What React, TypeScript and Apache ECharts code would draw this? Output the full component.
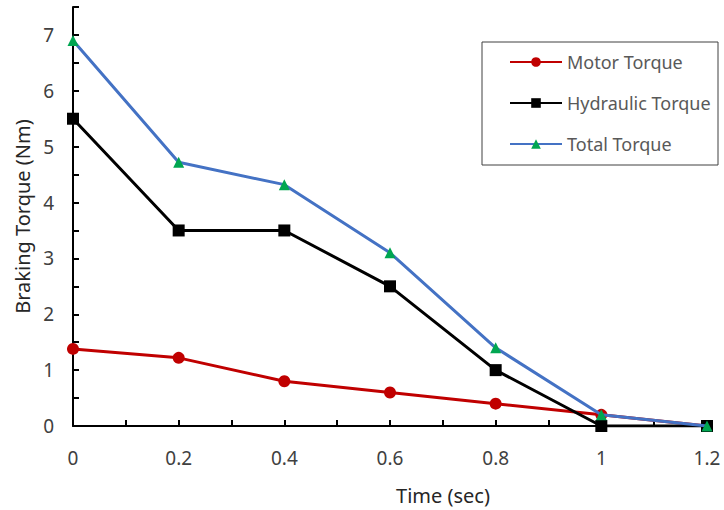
import React, { useEffect, useRef } from "react";
import * as echarts from "echarts";

const times = [0, 0.2, 0.4, 0.6, 0.8, 1, 1.2];
const motorTorque = [1.38, 1.22, 0.8, 0.6, 0.4, 0.2, 0];
const hydraulicTorque = [5.5, 3.5, 3.5, 2.5, 1.0, 0, 0];
const totalTorque = [6.9, 4.72, 4.32, 3.1, 1.4, 0.2, 0];
const seriesNames = ["Motor Torque", "Hydraulic Torque", "Total Torque"];

const FONT = "Noto Sans";

export default function App() {
  const ref = useRef<HTMLDivElement>(null);
  useEffect(() => {
    if (!ref.current) return;
    const chart = echarts.init(ref.current, undefined, { renderer: "svg" });
    const pair = (vals: number[]) => times.map((t, i) => [t, vals[i]]);
    chart.setOption({
      animation: false,
      backgroundColor: "#ffffff",
      textStyle: { fontFamily: FONT },
      grid: { left: 73, right: 17, top: 7, bottom: 83 },
      xAxis: {
        type: "value",
        min: 0,
        max: 1.2,
        interval: 0.2,
        name: "Time (sec)",
        nameLocation: "middle",
        nameGap: 59,
        nameTextStyle: { fontSize: 20, color: "#262626", fontFamily: FONT, padding: [0, 0, 0, 106] },
        axisLine: { show: true, lineStyle: { color: "#000", width: 2 } },
        axisTick: { show: true, inside: true, length: 6, lineStyle: { color: "#000", width: 2 } },
        minorTick: { show: true, splitNumber: 2, length: 6, lineStyle: { color: "#000", width: 2 } },
        axisLabel: { fontSize: 19, color: "#404040", margin: 22, fontFamily: FONT },
        splitLine: { show: false },
      },
      yAxis: {
        type: "value",
        min: 0,
        max: 7.5,
        interval: 1,
        name: "Braking Torque (Nm)",
        nameLocation: "middle",
        nameGap: 41,
        nameTextStyle: { fontSize: 20, color: "#262626", fontFamily: FONT },
        axisLine: { show: true, lineStyle: { color: "#000", width: 2 } },
        axisTick: { show: true, inside: true, length: 6, lineStyle: { color: "#000", width: 2 } },
        minorTick: { show: true, splitNumber: 2, length: 6, lineStyle: { color: "#000", width: 2 } },
        axisLabel: {
          fontSize: 19,
          color: "#404040",
          margin: 19,
          fontFamily: FONT,
          formatter: (v: number) => (Number.isInteger(v) ? String(v) : ""),
        },
        splitLine: { show: false },
      },
      legend: {
        orient: "vertical",
        left: 504,
        top: 48,
        itemWidth: 52,
        itemHeight: 12,
        itemGap: 23,
        textStyle: { fontSize: 18, color: "#595959", fontFamily: FONT },
        data: seriesNames,
      },
      graphic: [
        {
          type: "rect",
          shape: { x: 482, y: 42, width: 236, height: 123 },
          style: { fill: "none", stroke: "#404040", lineWidth: 1 },
          z: 0,
        },
      ],
      series: [
        {
          name: seriesNames[0],
          type: "line",
          data: pair(motorTorque),
          symbol: "circle",
          symbolSize: 12,
          lineStyle: { color: "#C00000", width: 3 },
          itemStyle: { color: "#C00000" },
          z: 2,
        },
        {
          name: seriesNames[1],
          type: "line",
          data: pair(hydraulicTorque),
          symbol: "rect",
          symbolSize: 12,
          lineStyle: { color: "#000000", width: 3 },
          itemStyle: { color: "#000000" },
          z: 3,
        },
        {
          name: seriesNames[2],
          type: "line",
          data: pair(totalTorque),
          symbol: "triangle",
          symbolSize: 11,
          lineStyle: { color: "#4472C4", width: 3 },
          itemStyle: { color: "#00A651" },
          z: 4,
        },
      ],
    });
    return () => chart.dispose();
  }, []);
  return (
    <div
      ref={ref}
      style={{ position: "fixed", left: 0, top: 0, width: 724, height: 510 }}
    />
  );
}
